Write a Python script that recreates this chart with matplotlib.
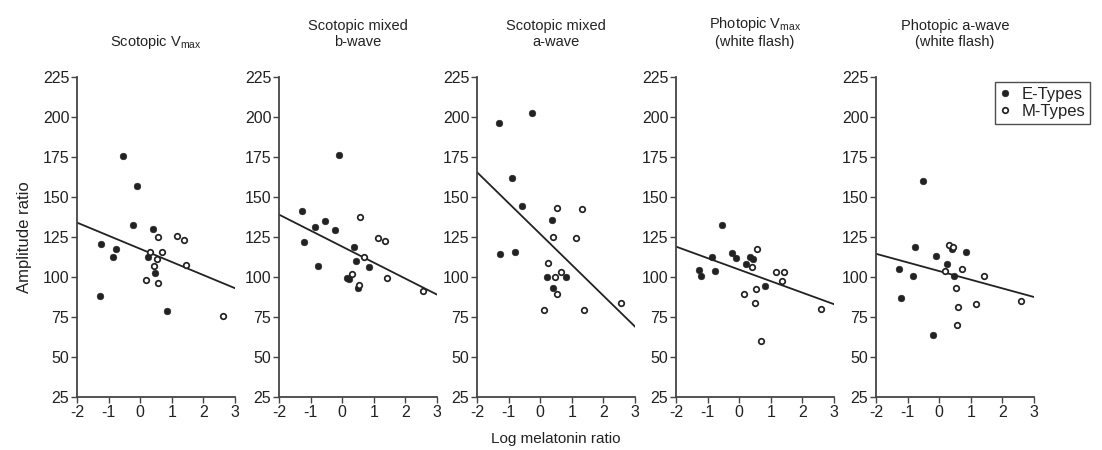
import matplotlib.pyplot as plt

plt.rcParams['font.family'] = ['Liberation Sans', 'DejaVu Sans']
plt.rcParams['mathtext.default'] = 'regular'
plt.rcParams['axes.unicode_minus'] = False

# panel titles
titles = ['Scotopic V$_{max}$', 'Scotopic mixed\nb-wave', 'Scotopic mixed\na-wave',
          'Photopic V$_{max}$\n(white flash)', 'Photopic a-wave\n(white flash)']

# Scotopic Vmax
scot_vmax_e_x = [-0.54, -0.11, -0.23, 0.39, -1.24, -0.78, -0.85, 0.24, 0.47, -1.27, 0.84]
scot_vmax_e_y = [175.4, 156.7, 132.3, 129.8, 120.4, 117.7, 112.3, 112.3, 102.5, 88.2, 78.6]
scot_vmax_m_x = [0.57, 1.18, 1.375, 0.31, 0.70, 0.53, 0.44, 1.45, 0.17, 0.55, 2.625]
scot_vmax_m_y = [125.0, 125.9, 123.4, 115.5, 115.9, 111.5, 107.1, 107.3, 98.4, 96.3, 75.9]
scot_vmax_fit = [134.0, 93.0]

# Scotopic mixed b-wave
scot_b_e_x = [-0.11, -1.26, -0.54, -0.86, -0.23, -1.22, 0.38, 0.44, 0.84, -0.78, 0.16, 0.23, 0.51]
scot_b_e_y = [176.5, 141.3, 135.2, 131.5, 129.4, 122.1, 119.0, 109.8, 106.1, 106.9, 99.4, 99.0, 93.2]
scot_b_m_x = [0.56, 1.14, 1.34, 0.69, 0.31, 0.54, 1.41, 2.56]
scot_b_m_y = [137.7, 124.4, 122.3, 112.7, 101.9, 95.2, 99.4, 91.3]
scot_b_fit = [139.0, 89.0]

# Scotopic mixed a-wave
scot_a_e_x = [-0.25, -1.29, -0.89, -0.57, 0.36, -1.26, -0.81, 0.20, 0.81, 0.42]
scot_a_e_y = [202.5, 196.3, 161.9, 144.6, 135.9, 114.2, 115.9, 100.2, 100.2, 93.4]
scot_a_m_x = [0.53, 1.33, 0.40, 1.13, 0.26, 0.48, 0.66, 0.52, 0.13, 1.375, 2.57]
scot_a_m_y = [143.4, 142.3, 124.8, 124.4, 108.8, 100.2, 103.4, 89.6, 79.2, 79.2, 83.8]
scot_a_fit = [165.5, 69.0]

# Photopic Vmax (white flash)
phot_vmax_e_x = [-0.54, -1.27, -1.22, -0.85, -0.77, -0.23, -0.11, 0.35, 0.45, 0.23, 0.83]
phot_vmax_e_y = [132.3, 104.6, 100.9, 112.7, 103.6, 115.0, 111.7, 112.3, 111.5, 108.0, 94.4]
phot_vmax_m_x = [0.56, 0.41, 1.17, 1.42, 1.34, 0.54, 0.16, 0.50, 0.68, 2.59]
phot_vmax_m_y = [117.7, 106.1, 103.2, 103.2, 97.3, 92.3, 89.2, 83.6, 60.2, 80.2]
phot_vmax_fit = [119.0, 83.0]

# Photopic a-wave (white flash)
phot_a_e_x = [-0.52, -0.76, -1.26, -0.83, -1.21, -0.09, 0.26, 0.41, 0.85, 0.47, -0.21]
phot_a_e_y = [160.0, 118.6, 105.0, 100.4, 87.1, 113.4, 108.4, 117.5, 115.4, 100.4, 63.8]
phot_a_m_x = [0.31, 0.43, 0.71, 0.19, 1.41, 0.54, 1.17, 0.58, 0.56, 2.60]
phot_a_m_y = [119.8, 118.6, 105.2, 103.6, 100.4, 92.9, 82.9, 81.5, 70.2, 84.8]
phot_a_fit = [114.5, 87.5]

fit_x = [-2, 3]

panels = [
    (scot_vmax_e_x, scot_vmax_e_y, scot_vmax_m_x, scot_vmax_m_y, scot_vmax_fit),
    (scot_b_e_x, scot_b_e_y, scot_b_m_x, scot_b_m_y, scot_b_fit),
    (scot_a_e_x, scot_a_e_y, scot_a_m_x, scot_a_m_y, scot_a_fit),
    (phot_vmax_e_x, phot_vmax_e_y, phot_vmax_m_x, phot_vmax_m_y, phot_vmax_fit),
    (phot_a_e_x, phot_a_e_y, phot_a_m_x, phot_a_m_y, phot_a_fit),
]

fig = plt.figure(figsize=(11.02, 4.5), dpi=100)

ink = '#222222'
lefts = [77, 279, 477, 676, 876]
axes = []
for i, (ex, ey, mx, my, fit) in enumerate(panels):
    ax = fig.add_axes([lefts[i] / 1102, 53 / 450, 158 / 1102, 320 / 450])
    axes.append(ax)

    ax.plot(fit_x, fit, color=ink, lw=1.3, zorder=2)
    ax.plot(ex, ey, 'o', color=ink, ms=4.8, mew=0.4, ls='none', zorder=3, label='E-Types')
    ax.plot(mx, my, 'o', mfc='white', mec=ink, ms=4.0, mew=1.25, ls='none', zorder=3, label='M-Types')

    ax.set_xlim(-2, 3)
    ax.set_ylim(25, 225)
    ax.set_xticks(range(-2, 4))
    ax.set_yticks(range(25, 226, 25))

    for s in ['top', 'right']:
        ax.spines[s].set_visible(False)
    for s in ['left', 'bottom']:
        ax.spines[s].set_color('#444444')
        ax.spines[s].set_linewidth(1.3)
    ax.tick_params(direction='out', length=4, width=1, color='#444444',
                   labelsize=11.5, labelcolor=ink, pad=1.5)

    ax.set_title(titles[i], fontsize=10.5, color=ink, pad=22, linespacing=1.25)

axes[0].set_ylabel('Amplitude ratio', fontsize=12, color=ink, labelpad=8)
axes[2].set_xlabel('Log melatonin ratio', fontsize=11, color=ink, labelpad=9)

leg = axes[4].legend(loc='upper left', bbox_to_anchor=(0.752, 0.984), borderaxespad=0,
                     fontsize=12, frameon=True, fancybox=False, handlelength=0.6,
                     handletextpad=0.7, borderpad=0.3, labelspacing=0.1)
leg.get_frame().set_edgecolor(ink)
leg.get_frame().set_linewidth(1)
for t in leg.get_texts():
    t.set_color(ink)

fig.savefig('out.png', dpi=100)
